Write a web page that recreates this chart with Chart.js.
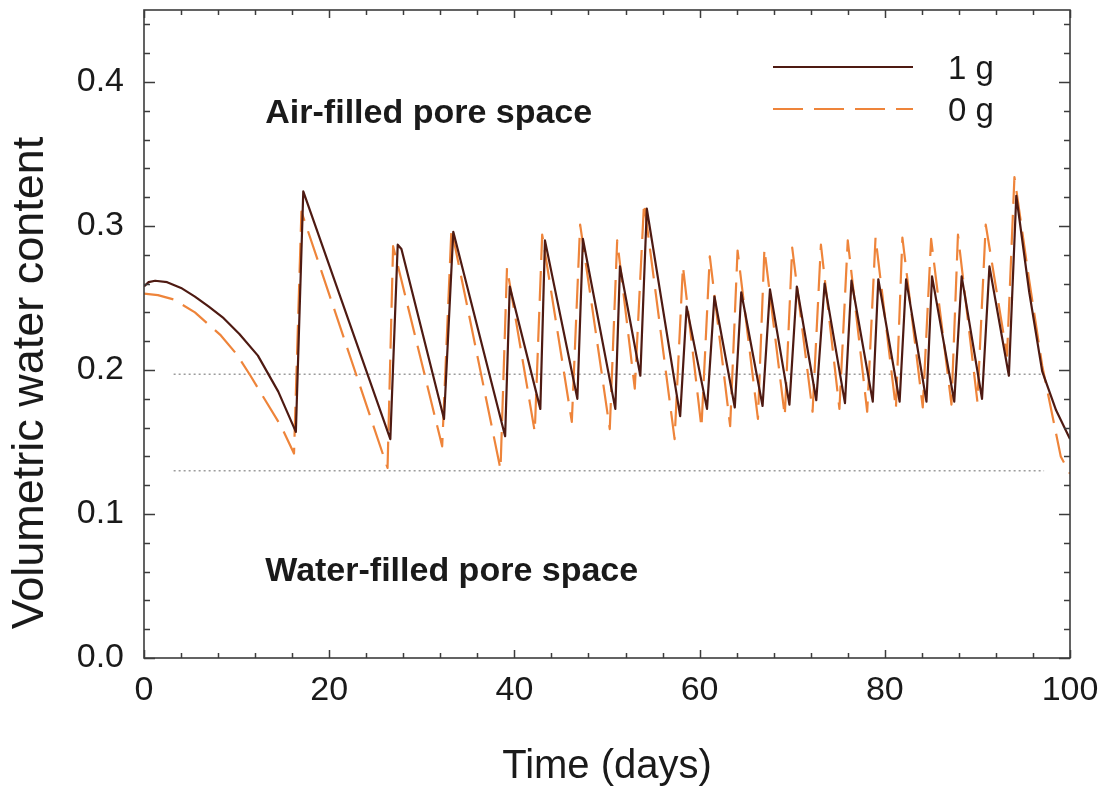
<!DOCTYPE html>
<html>
<head>
<meta charset="utf-8">
<script src="https://cdn.jsdelivr.net/npm/chart.js@4.4.1/dist/chart.umd.min.js"></script>
<style>
  html, body { margin: 0; padding: 0; background: #ffffff; }
  #wrap { width: 1104px; height: 787px; }
</style>
</head>
<body>
<div id="wrap"><canvas id="c" width="1104" height="787"></canvas></div>
<script>
// ---------------- data ----------------
const seriesNames = ['1 g', '0 g'];

const days1g = [0, 0.5, 1.2, 2.5, 4.0, 5.5, 7.0, 8.6, 10.3, 12.3, 14.5, 16.4, 17.2, 26.6, 27.4, 27.8, 32.4, 33.4, 39.0, 39.5,
  42.8, 43.3, 46.8, 47.4, 50.9, 51.4, 53.6, 54.3, 57.9, 58.6, 60.8, 61.6, 63.8, 64.5, 66.8, 67.6,
  69.7, 70.5, 72.6, 73.5, 75.7, 76.4, 78.7, 79.3, 81.6, 82.3, 84.5, 85.1, 87.5, 88.3, 90.5, 91.3,
  93.4, 94.2, 95.6, 97.0, 98.5, 100];
const vwc1g = [0.258, 0.261, 0.262, 0.261, 0.257, 0.251, 0.244, 0.236, 0.225, 0.210, 0.185, 0.157, 0.324, 0.152, 0.287, 0.284, 0.166, 0.296, 0.154, 0.258,
  0.173, 0.290, 0.180, 0.291, 0.173, 0.272, 0.196, 0.312, 0.168, 0.244, 0.173, 0.251, 0.174, 0.254, 0.175, 0.256,
  0.176, 0.258, 0.179, 0.260, 0.177, 0.262, 0.178, 0.263, 0.178, 0.263, 0.178, 0.265, 0.178, 0.265, 0.180, 0.272,
  0.196, 0.321, 0.254, 0.199, 0.172, 0.152];

const days0g = [0, 1.5, 3.2, 5.5, 8.3, 10.0, 11.5, 13.0, 14.8, 16.2, 17.0, 26.3, 26.9, 32.2, 33.2, 38.5, 39.2,
  42.2, 43.0, 46.2, 47.1, 50.3, 51.1, 53.0, 54.0, 57.3, 58.2, 60.2, 61.1, 63.3, 64.1, 66.3, 67.0,
  69.2, 70.0, 72.2, 73.1, 75.1, 76.0, 78.1, 79.0, 81.2, 81.9, 84.1, 85.0, 87.2, 87.9, 90.0, 90.9,
  93.2, 94.0, 95.6, 97.0, 99.0, 100];
const vwc0g = [0.253, 0.252, 0.249, 0.240, 0.224, 0.211, 0.196, 0.180, 0.161, 0.142, 0.310, 0.132, 0.286, 0.147, 0.298, 0.131, 0.271,
  0.157, 0.294, 0.164, 0.301, 0.159, 0.290, 0.187, 0.316, 0.152, 0.272, 0.160, 0.279, 0.161, 0.283, 0.166, 0.284,
  0.168, 0.285, 0.171, 0.287, 0.173, 0.290, 0.171, 0.292, 0.173, 0.292, 0.174, 0.291, 0.176, 0.294, 0.178, 0.301,
  0.210, 0.334, 0.262, 0.203, 0.140, 0.128];

const thresholdValues = [0.197, 0.130];
const thresholdDays = [3.2, 97.2];

const xTickValues = [0, 20, 40, 60, 80, 100];
const yTickValues = [0.0, 0.1, 0.2, 0.3, 0.4];

const annotationTexts = ['Air-filled pore space', 'Water-filled pore space'];

// ---------------- styling / helpers ----------------
const FONT = '"Liberation Sans", Arial, Helvetica, sans-serif';
const colors = ['#4e1a12', '#ee843a'];
const toPts = (xs, ys) => xs.map((x, i) => ({ x: x, y: ys[i] }));

const datasets = [
  {
    label: 'thr0', data: toPts(thresholdDays, [thresholdValues[0], thresholdValues[0]]),
    borderColor: '#9c9c9c', borderWidth: 1.6, borderDash: [2, 3], pointRadius: 0, showLine: true, order: 3
  },
  {
    label: 'thr1', data: toPts(thresholdDays, [thresholdValues[1], thresholdValues[1]]),
    borderColor: '#9c9c9c', borderWidth: 1.6, borderDash: [2, 3], pointRadius: 0, showLine: true, order: 3
  },
  {
    label: seriesNames[1], data: toPts(days0g, vwc0g),
    borderColor: colors[1], borderWidth: 2.2, borderDash: [30, 11], pointRadius: 0, showLine: true,
    tension: 0, borderJoinStyle: 'round', order: 2
  },
  {
    label: seriesNames[0], data: toPts(days1g, vwc1g),
    borderColor: colors[0], borderWidth: 2.2, pointRadius: 0, showLine: true,
    tension: 0, borderJoinStyle: 'round', order: 1
  }
];

const decorPlugin = {
  id: 'decor',
  afterDatasetsDraw(chart) {
    const ctx = chart.ctx;
    const a = chart.chartArea;
    const xs = chart.scales.x, ys = chart.scales.y;
    ctx.save();
    // frame
    ctx.strokeStyle = '#3c3c3c';
    ctx.lineWidth = 1.6;
    ctx.strokeRect(a.left, a.top, a.right - a.left, a.bottom - a.top);
    // x ticks (inward, top & bottom)
    ctx.lineWidth = 1.5;
    for (let d = 0; d <= 100; d += 4) {
      const px = Math.round(xs.getPixelForValue(d)) + 0.5;
      const len = (d % 20 === 0) ? 8 : 5;
      ctx.beginPath();
      ctx.moveTo(px, a.bottom); ctx.lineTo(px, a.bottom - len);
      ctx.moveTo(px, a.top); ctx.lineTo(px, a.top + len);
      ctx.stroke();
    }
    // y ticks (inward, left & right)
    for (let k = 0; k <= 22; k++) {
      const v = k * 0.02;
      const py = Math.round(ys.getPixelForValue(v)) + 0.5;
      const len = (k % 5 === 0) ? 11 : 6;
      ctx.beginPath();
      ctx.moveTo(a.left, py); ctx.lineTo(a.left + len, py);
      ctx.moveTo(a.right, py); ctx.lineTo(a.right - len, py);
      ctx.stroke();
    }
    // annotations
    ctx.fillStyle = '#1a1a1a';
    ctx.font = 'bold 34px ' + FONT;
    ctx.textAlign = 'left';
    ctx.textBaseline = 'middle';
    ctx.fillText(annotationTexts[0], xs.getPixelForValue(13.1), ys.getPixelForValue(0.378));
    ctx.fillText(annotationTexts[1], xs.getPixelForValue(13.1), ys.getPixelForValue(0.060));
    // legend
    const lx0 = a.left + 629, lx1 = a.left + 769, tx = a.left + 804;
    const rows = [{ y: a.top + 57, ds: datasets[3] }, { y: a.top + 99, ds: datasets[2] }];
    rows.forEach(r => {
      ctx.strokeStyle = r.ds.borderColor;
      ctx.lineWidth = 2;
      ctx.setLineDash(r.ds.borderDash || []);
      ctx.beginPath();
      ctx.moveTo(lx0, r.y); ctx.lineTo(lx1, r.y);
      ctx.stroke();
      ctx.setLineDash([]);
      ctx.fillStyle = '#1a1a1a';
      ctx.font = '33px ' + FONT;
      ctx.textAlign = 'left';
      ctx.textBaseline = 'middle';
      ctx.fillText(r.ds.label, tx, r.y + 3);
    });
    // y-axis title
    ctx.save();
    ctx.translate(31, 383);
    ctx.rotate(-Math.PI / 2);
    ctx.font = '45px ' + FONT;
    ctx.textAlign = 'center';
    ctx.textBaseline = 'middle';
    ctx.fillStyle = '#1a1a1a';
    ctx.fillText('Volumetric water content', 0, 0);
    ctx.restore();
    ctx.restore();
  }
};

new Chart(document.getElementById('c'), {
  type: 'scatter',
  data: { datasets: datasets },
  options: {
    responsive: false,
    animation: false,
    devicePixelRatio: 1,
    layout: { padding: { top: 10, right: 34, left: 0, bottom: 0 } },
    plugins: { legend: { display: false }, tooltip: { enabled: false } },
    scales: {
      x: {
        type: 'linear', min: 0, max: 100,
        afterBuildTicks: s => { s.ticks = xTickValues.map(v => ({ value: v })); },
        afterFit: s => { s.height = 129; s.paddingLeft = 0; s.paddingRight = 0; },
        grid: { display: false, drawTicks: false },
        border: { display: false },
        ticks: { color: '#1a1a1a', font: { family: FONT, size: 34 }, padding: 12, maxRotation: 0,
                 callback: v => String(v) },
        title: { display: true, text: 'Time (days)', color: '#1a1a1a',
                 font: { family: FONT, size: 40, lineHeight: 1 }, padding: { top: 0, bottom: 0 } }
      },
      y: {
        type: 'linear', min: 0, max: 0.45,
        afterBuildTicks: s => { s.ticks = yTickValues.map(v => ({ value: v })); },
        afterFit: s => { s.width = 144; s.paddingTop = 0; s.paddingBottom = 0; },
        grid: { display: false, drawTicks: false },
        border: { display: false },
        ticks: { color: '#1a1a1a', font: { family: FONT, size: 34 }, padding: 20,
                 callback: v => Number(v).toFixed(1) }
      }
    }
  },
  plugins: [decorPlugin]
});
</script>
</body>
</html>
